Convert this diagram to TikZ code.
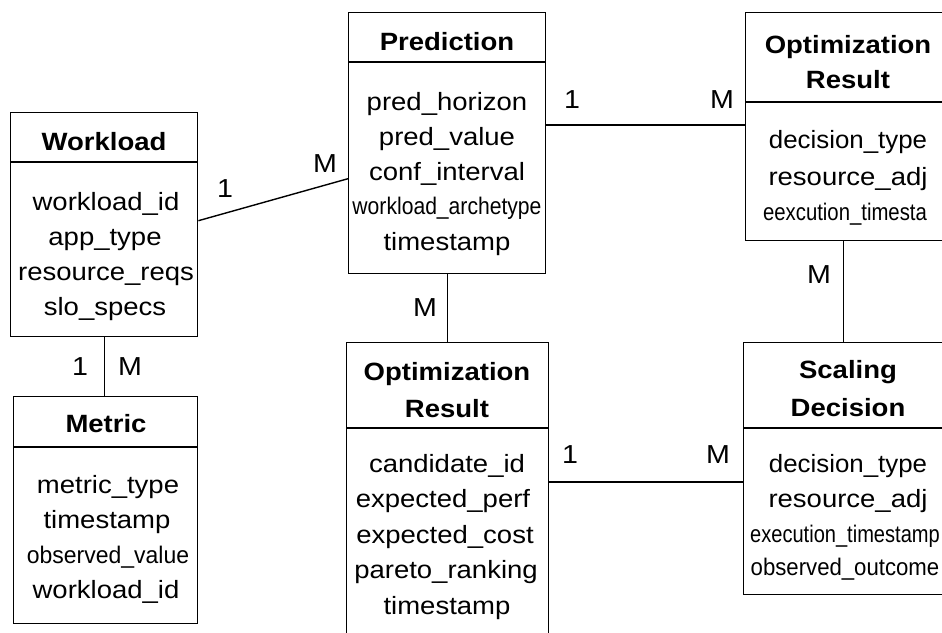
\documentclass[tikz,border=0pt]{standalone}
\usepackage{fontspec}
\usepackage{graphicx}
\setmainfont{Liberation Sans}[FakeStretch=1.1]
\usetikzlibrary{calc}
% horizontally condensed attribute text
\newcommand{\narrow}[2]{\scalebox{#1}[1]{#2}}
\begin{document}
\begin{tikzpicture}[x=1pt,y=-1pt,
  entity/.style={draw, line width=1.4pt, rectangle, inner sep=0pt, anchor=north west},
  hdr/.style={font=\bfseries\fontsize{25}{30}\selectfont, anchor=base, inner sep=0pt},
  attr/.style={font=\fontsize{25}{30}\selectfont, anchor=base, inner sep=0pt},
  small/.style={font=\fontsize{24}{28}\selectfont, anchor=base, inner sep=0pt},
  card/.style={font=\fontsize{26}{30}\selectfont, anchor=base, inner sep=0pt},
  link/.style={line width=1.4pt},
  divider/.style={line width=1.4pt}]
\useasboundingbox (0,0) rectangle (942,632);
\clip (0,0) rectangle (942,632);

% ---------- entity boxes ----------
\node[entity, minimum width=187pt, minimum height=224pt] (work) at (10,112) {};
\node[entity, minimum width=184pt, minimum height=227pt] (metric) at (13,396) {};
\node[entity, minimum width=197pt, minimum height=261pt] (pred) at (348,12) {};
\node[entity, minimum width=202pt, minimum height=330pt] (optc) at (346,342) {};
\node[entity, minimum width=207pt, minimum height=228pt] (optr) at (745,12) {};
\node[entity, minimum width=209pt, minimum height=252pt] (scal) at (743,342) {};

% header dividers
\draw[divider] ($(work.north west)+(0,50)$) -- ($(work.north east)+(0,50)$);
\draw[divider] ($(metric.north west)+(0,51)$) -- ($(metric.north east)+(0,51)$);
\draw[divider] ($(pred.north west)+(0,50)$) -- ($(pred.north east)+(0,50)$);
\draw[divider] ($(optc.north west)+(0,86)$) -- ($(optc.north east)+(0,86)$);
\draw[divider] ($(optr.north west)+(0,90)$) -- ($(optr.north east)+(0,90)$);
\draw[divider] ($(scal.north west)+(0,86)$) -- ($(scal.north east)+(0,86)$);

% ---------- Workload ----------
\node[hdr]  (workH)  at (104,150) {Workload};
\node[attr] (workA1) at (106,210) {workload\_id};
\node[attr] (workA2) at (105,245) {app\_type};
\node[attr] (workA3) at (106,280) {resource\_reqs};
\node[attr] (workA4) at (105,315) {slo\_specs};

% ---------- Metric ----------
\node[hdr]  (metH)  at (106,432) {Metric};
\node[attr] (metA1) at (108,493) {metric\_type};
\node[attr] (metA2) at (107,528) {timestamp};
\node[small](metA3) at (108,563) {\narrow{0.87}{observed\_value}};
\node[attr] (metA4) at (106,598) {workload\_id};

% ---------- Prediction ----------
\node[hdr]  (predH)  at (447,50) {Prediction};
\node[attr] (predA1) at (447,110) {pred\_horizon};
\node[attr] (predA2) at (447,145) {pred\_value};
\node[attr] (predA3) at (447,180) {conf\_interval};
\node[small](predA4) at (447,214) {\narrow{0.8}{workload\_archetype}};
\node[attr] (predA5) at (447,250) {timestamp};

% ---------- Optimization Result (centre) ----------
\node[hdr]  (optcH1) at (447,380) {Optimization};
\node[hdr]  (optcH2) at (447,417) {Result};
\node[attr] (optcA1) at (447,472) {candidate\_id};
\node[attr] (optcA2) at (443,507) {expected\_perf};
\node[attr] (optcA3) at (445,543) {expected\_cost};
\node[attr] (optcA4) at (446,578) {pareto\_ranking};
\node[attr] (optcA5) at (447,614) {timestamp};

% ---------- Optimization Result (right) ----------
\node[hdr]  (optrH1) at (848,53) {Optimization};
\node[hdr]  (optrH2) at (848,88) {Result};
\node[attr] (optrA1) at (848,148) {\narrow{0.94}{decision\_type}};
\node[attr] (optrA2) at (848,185) {resource\_adj};
\node[small](optrA3) at (845,220) {\narrow{0.77}{eexcution\_timesta}};

% ---------- Scaling Decision ----------
\node[hdr]  (scalH1) at (848,378) {Scaling};
\node[hdr]  (scalH2) at (848,416) {Decision};
\node[attr] (scalA1) at (848,472) {\narrow{0.94}{decision\_type}};
\node[attr] (scalA2) at (848,507) {resource\_adj};
\node[small](scalA3) at (845,542) {\narrow{0.76}{execution\_timestamp}};
\node[small](scalA4) at (845,575) {\narrow{0.84}{observed\_outcome}};

% ---------- relationships ----------
\draw[link] ($(work.east)+(0,-4)$) -- ($(pred.west)+(0,35.5)$);
\draw[link] (work.south) -- (work.south |- metric.north);
\draw[link] (pred.south) -- (pred.south |- optc.north);
\draw[link] ($(pred.north east)+(0,113)$) coordinate (pr) -- (pr -| optr.west);
\draw[link] ($(optr.south)+(-6,0)$) coordinate (os) -- (os |- scal.north);
\draw[link] ($(optc.north east)+(0,140)$) coordinate (oc) -- (oc -| scal.west);

% cardinalities
\node[card] (c1) at (225,197) {1};
\node[card] (c2) at (325,172) {M};
\node[card] (c3) at (80,375) {1};
\node[card] (c4) at (130,375) {M};
\node[card] (c5) at (425,316) {M};
\node[card] (c6) at (572,108) {1};
\node[card] (c7) at (722,108) {M};
\node[card] (c8) at (819,283) {M};
\node[card] (c9) at (570,463) {1};
\node[card] (c10) at (718,463) {M};
\end{tikzpicture}
\end{document}
